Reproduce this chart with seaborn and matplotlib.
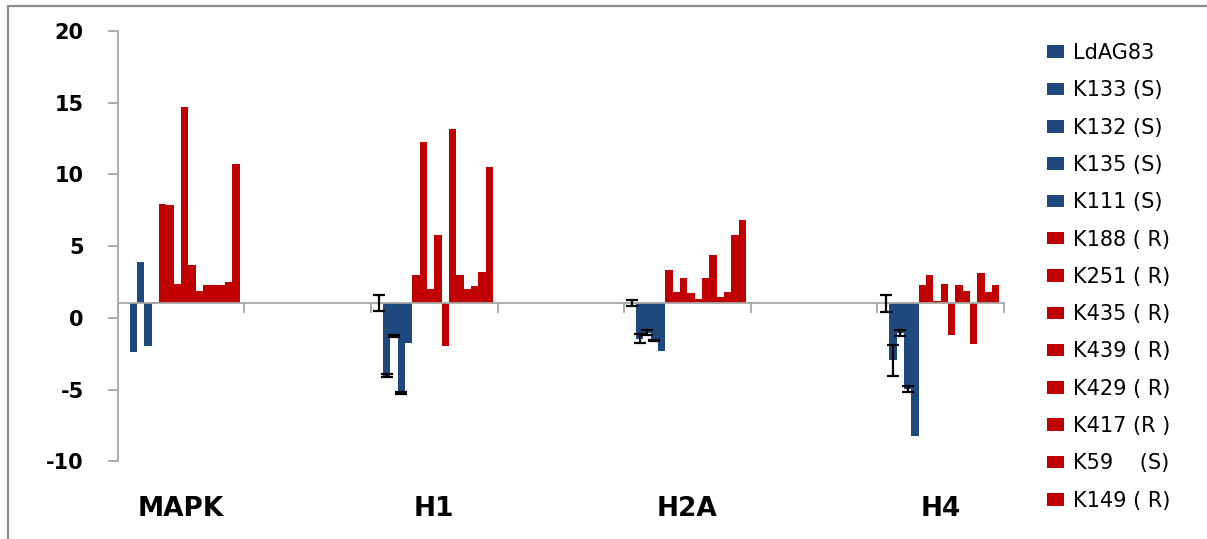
import numpy as np
import pandas as pd
import seaborn as sns
import matplotlib.pyplot as plt
from matplotlib.patches import Patch
from matplotlib.lines import Line2D
import matplotlib.transforms as mtransforms

# Genes on the x axis, with empty slots between them
groups = ["MAPK", "H1", "H2A", "H4"]
slot_order = ["MAPK", " ", "H1", "  ", "H2A", "   ", "H4"]

# Isolates (one bar each per gene)
series = ["LdAG83", "K133 (S)", "K132 (S)", "K135 (S)", "K111 (S)",
          "K188 ( R)", "K251 ( R)", "K435 ( R)", "K439 ( R)", "K429 ( R)",
          "K417 (R )", "K59    (S)", "K149 ( R)",
          "isolate 14", "isolate 15", "isolate 16"]
n_legend = 13

# Relative expression (fold change) per gene, in series order
mapk_vals = [1.0, -2.40, 3.89, -1.98, 1.13, 7.96, 7.89, 2.38, 14.70, 3.71,
             1.90, 2.31, 2.31, 2.31, 2.52, 10.70]
h1_vals = [1.0, -4.05, -1.29, -5.24, -1.75, 3.01, 12.23, 2.03, 5.80, -1.98,
           13.18, 3.01, 2.03, 2.20, 3.20, 10.51]
h2a_vals = [1.0, -1.45, -1.05, -1.59, -2.28, 3.31, 1.78, 2.80, 1.73, 1.34,
            2.80, 4.38, 1.43, 1.78, 5.78, 6.84]
h4_vals = [1.0, -2.97, -1.08, -4.98, -8.26, 2.31, 2.99, 1.17, 2.38, -1.17,
           2.31, 1.90, -1.80, 3.10, 1.78, 2.31]

# Standard deviations (reference strain and sensitive isolates only)
h1_err = [0.56, 0.10, 0.07, 0.06, 0.0]
h2a_err = [0.21, 0.30, 0.18, 0.03, 0.0]
h4_err = [0.58, 1.10, 0.20, 0.20, 0.0]

values = {"MAPK": mapk_vals, "H1": h1_vals, "H2A": h2a_vals, "H4": h4_vals}
errors = {"H1": h1_err, "H2A": h2a_err, "H4": h4_err}

BLUE = "#1F497D"
RED = "#C00000"
colors = [BLUE] * 5 + [RED] * (len(series) - 5)

rows = [(g, s, v) for g in groups for s, v in zip(series, values[g])]
df = pd.DataFrame(rows, columns=["gene", "isolate", "fold"])

sns.set_theme(style="white")
plt.rcParams["font.family"] = ["DejaVu Sans"]
plt.rcParams["axes.unicode_minus"] = False
plt.rcParams["text.color"] = "black"
plt.rcParams["ytick.labelcolor"] = "black"

fig = plt.figure(figsize=(12.07, 5.39), dpi=100)
ax = fig.add_axes([0.0975, 0.1442, 0.7343, 0.7985])

group_width = 0.927
sns.barplot(data=df, x="gene", y="fold", hue="isolate", order=slot_order,
            hue_order=series, palette=colors, saturation=1, width=group_width,
            gap=0, errorbar=None, legend=False, linewidth=0, ax=ax)

# Bars rise or fall from the axis crossing at 1
baseline = 1.0
slot_w = group_width / len(series)
for p in ax.patches:
    cx = p.get_x() + p.get_width() / 2
    cat = int(round(cx))
    idx = int(round((cx - (cat - group_width / 2)) / slot_w - 0.5))
    gene = slot_order[cat]
    v = values[gene][idx]
    p.set_y(baseline)
    p.set_height(v - baseline)
    if gene in errors and idx < len(errors[gene]) and errors[gene][idx] > 0:
        ax.errorbar(cx, v, yerr=errors[gene][idx], fmt="none", ecolor="black",
                    elinewidth=1.6, capsize=4, capthick=1.6, zorder=5)

ax.set_xlim(-0.5, len(slot_order) - 0.5)
ax.set_ylim(-10, 20)
ax.set_yticks(np.arange(-10, 21, 5))
ax.set_xlabel("")
ax.set_ylabel("")

axis_grey = "#A6A6A6"
for side in ("top", "right"):
    ax.spines[side].set_visible(False)
ax.spines["left"].set_color(axis_grey)
ax.spines["left"].set_linewidth(1.3)
ax.spines["bottom"].set_position(("data", baseline))
ax.spines["bottom"].set_color(axis_grey)
ax.spines["bottom"].set_linewidth(1.3)

ax.set_xticks(np.arange(-0.5, len(slot_order), 1.0))
ax.set_xticklabels([])
ax.tick_params(axis="x", direction="out", length=7, width=1.3,
               color=axis_grey, bottom=True)
ax.tick_params(axis="y", direction="out", length=7.5, width=1.3,
               color=axis_grey, left=True, pad=17, labelsize=15,
               labelcolor="black")
for lab in ax.get_yticklabels():
    lab.set_fontweight("bold")

# Gene names along the bottom
trans = mtransforms.blended_transform_factory(ax.transData, fig.transFigure)
for g in groups:
    ax.text(slot_order.index(g), 0.056, g, transform=trans, ha="center",
            va="center", fontsize=19, fontweight="bold", color="black")

handles = [Patch(facecolor=colors[i], edgecolor="none", label=series[i])
           for i in range(n_legend)]
leg = fig.legend(handles=handles, loc="upper left",
                 bbox_to_anchor=(0.8675, 0.92), frameon=False, fontsize=15,
                 handlelength=0.8, handleheight=0.55, handletextpad=0.45,
                 labelspacing=0.83, borderpad=0, borderaxespad=0)
for t in leg.get_texts():
    t.set_color("black")

# Chart frame (left and top edges)
frame_grey = "#8C8C8C"
fig.add_artist(Line2D([0.0066, 0.0066], [0.0, 0.989], color=frame_grey,
                      linewidth=1.6, transform=fig.transFigure))
fig.add_artist(Line2D([0.0066, 1.0], [0.989, 0.989], color=frame_grey,
                      linewidth=1.6, transform=fig.transFigure))

fig.savefig("out.png", dpi=100)
